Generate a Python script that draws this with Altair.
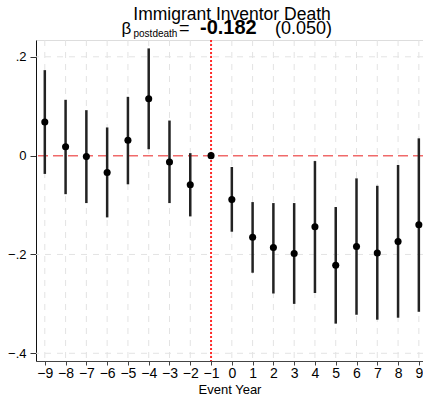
import altair as alt
import pandas as pd

years = [-9, -8, -7, -6, -5, -4, -3, -2, -1, 0, 1, 2, 3, 4, 5, 6, 7, 8, 9]
coef = [0.068, 0.018, -0.002, -0.034, 0.031, 0.115, -0.013, -0.059, 0.0,
        -0.089, -0.165, -0.186, -0.198, -0.144, -0.222, -0.184, -0.197, -0.174, -0.140]
ci_hi = [0.173, 0.113, 0.092, 0.057, 0.119, 0.217, 0.071, 0.005, None,
         -0.023, -0.094, -0.096, -0.096, -0.011, -0.104, -0.046, -0.061, -0.019, 0.035]
ci_lo = [-0.037, -0.078, -0.096, -0.125, -0.058, 0.013, -0.096, -0.123, None,
         -0.154, -0.237, -0.279, -0.300, -0.278, -0.340, -0.322, -0.332, -0.328, -0.316]
y_ticks = [-0.4, -0.2, 0.0, 0.2]

df = pd.DataFrame({"year": years, "coef": coef, "hi": ci_hi, "lo": ci_lo})
ci_df = df.dropna()

FONT = "Liberation Sans"
xscale = alt.Scale(domain=[-9.424, 9.2], nice=False, zero=False)
yscale = alt.Scale(domain=[-0.4156, 0.234], nice=False, zero=False)

x_axis = alt.Axis(
    values=years, grid=False, labelFontSize=14, titleFontSize=13,
    labelFont=FONT, titleFont=FONT, tickSize=4, labelPadding=1,
    domainColor="#444444", tickColor="#444444", labelColor="black",
    titleColor="black", titleFontWeight="normal",
    titleBaseline="alphabetic", titleY=32,
    labelFlush=False, labelOverlap=False, format="d",
)
y_axis = alt.Axis(
    values=y_ticks, grid=False, labelFontSize=13, labelFont=FONT,
    tickSize=6, labelPadding=4, domainColor="#111111", tickColor="#333333",
    labelColor="black", labelOverlap=False,
    labelExpr="datum.value == 0 ? '0' : replace(format(datum.value, '.1f'), '0.', '.')",
)
XT = "Event Year"


def X(field):
    return alt.X(field, scale=xscale, title=XT, axis=x_axis)


def Y(field):
    return alt.Y(field, scale=yscale, title=None, axis=y_axis)


grid_x = alt.Chart(pd.DataFrame({"year": years})).mark_rule(
    color="#e3e3e3", strokeWidth=1, strokeDash=[6, 6]
).encode(x=X("year:Q"))

grid_y = alt.Chart(pd.DataFrame({"coef": [-0.4, -0.2, 0.2]})).mark_rule(
    color="#e3e3e3", strokeWidth=1, strokeDash=[6, 6]
).encode(y=Y("coef:Q"))

zero = alt.Chart(pd.DataFrame({"coef": [0.0]})).mark_rule(
    color="#f06a6a", strokeWidth=1.5, strokeDash=[10, 5]
).encode(y=Y("coef:Q"))

vline = alt.Chart(pd.DataFrame({"year": [-1]})).mark_rule(
    color="#ff2a2a", strokeWidth=2, strokeDash=[2, 2]
).encode(x=X("year:Q"))

bars = alt.Chart(ci_df).mark_rule(color="#222222", strokeWidth=2.5).encode(
    x=X("year:Q"),
    y=Y("lo:Q"),
    y2="hi:Q",
)

pts = alt.Chart(df).mark_point(filled=True, color="black", size=50, opacity=1).encode(
    x=X("year:Q"),
    y=Y("coef:Q"),
)


def txt(s, x, y, size, weight="normal", align="left"):
    return alt.Chart(pd.DataFrame({"t": [s]})).mark_text(
        font=FONT, fontSize=size, fontWeight=weight, align=align,
        baseline="alphabetic", color="black",
    ).encode(text="t:N", x=alt.value(x), y=alt.value(y))


title1 = txt("Immigrant Inventor Death", 196, -20.5, 17.5, align="center")
b1 = txt("β", 85.5, -6.5, 17)
b2 = txt("postdeath", 97.5, -3, 10)
b3 = txt("=", 143, -6.5, 18)
b4 = txt("-0.182", 164, -6.5, 20, weight="bold")
b5 = txt("(0.050)", 239, -6.5, 18)

chart = alt.layer(
    grid_x, grid_y, zero, vline, bars, pts, title1, b1, b2, b3, b4, b5
).properties(
    width=387, height=321,
    autosize=alt.AutoSizeParams(type="none"),
    padding={"left": 36, "top": 40, "right": 0, "bottom": 34},
).configure_view(stroke=None).configure(background="white")

chart.save("out.html", embed_options={"renderer": "svg", "actions": False})
